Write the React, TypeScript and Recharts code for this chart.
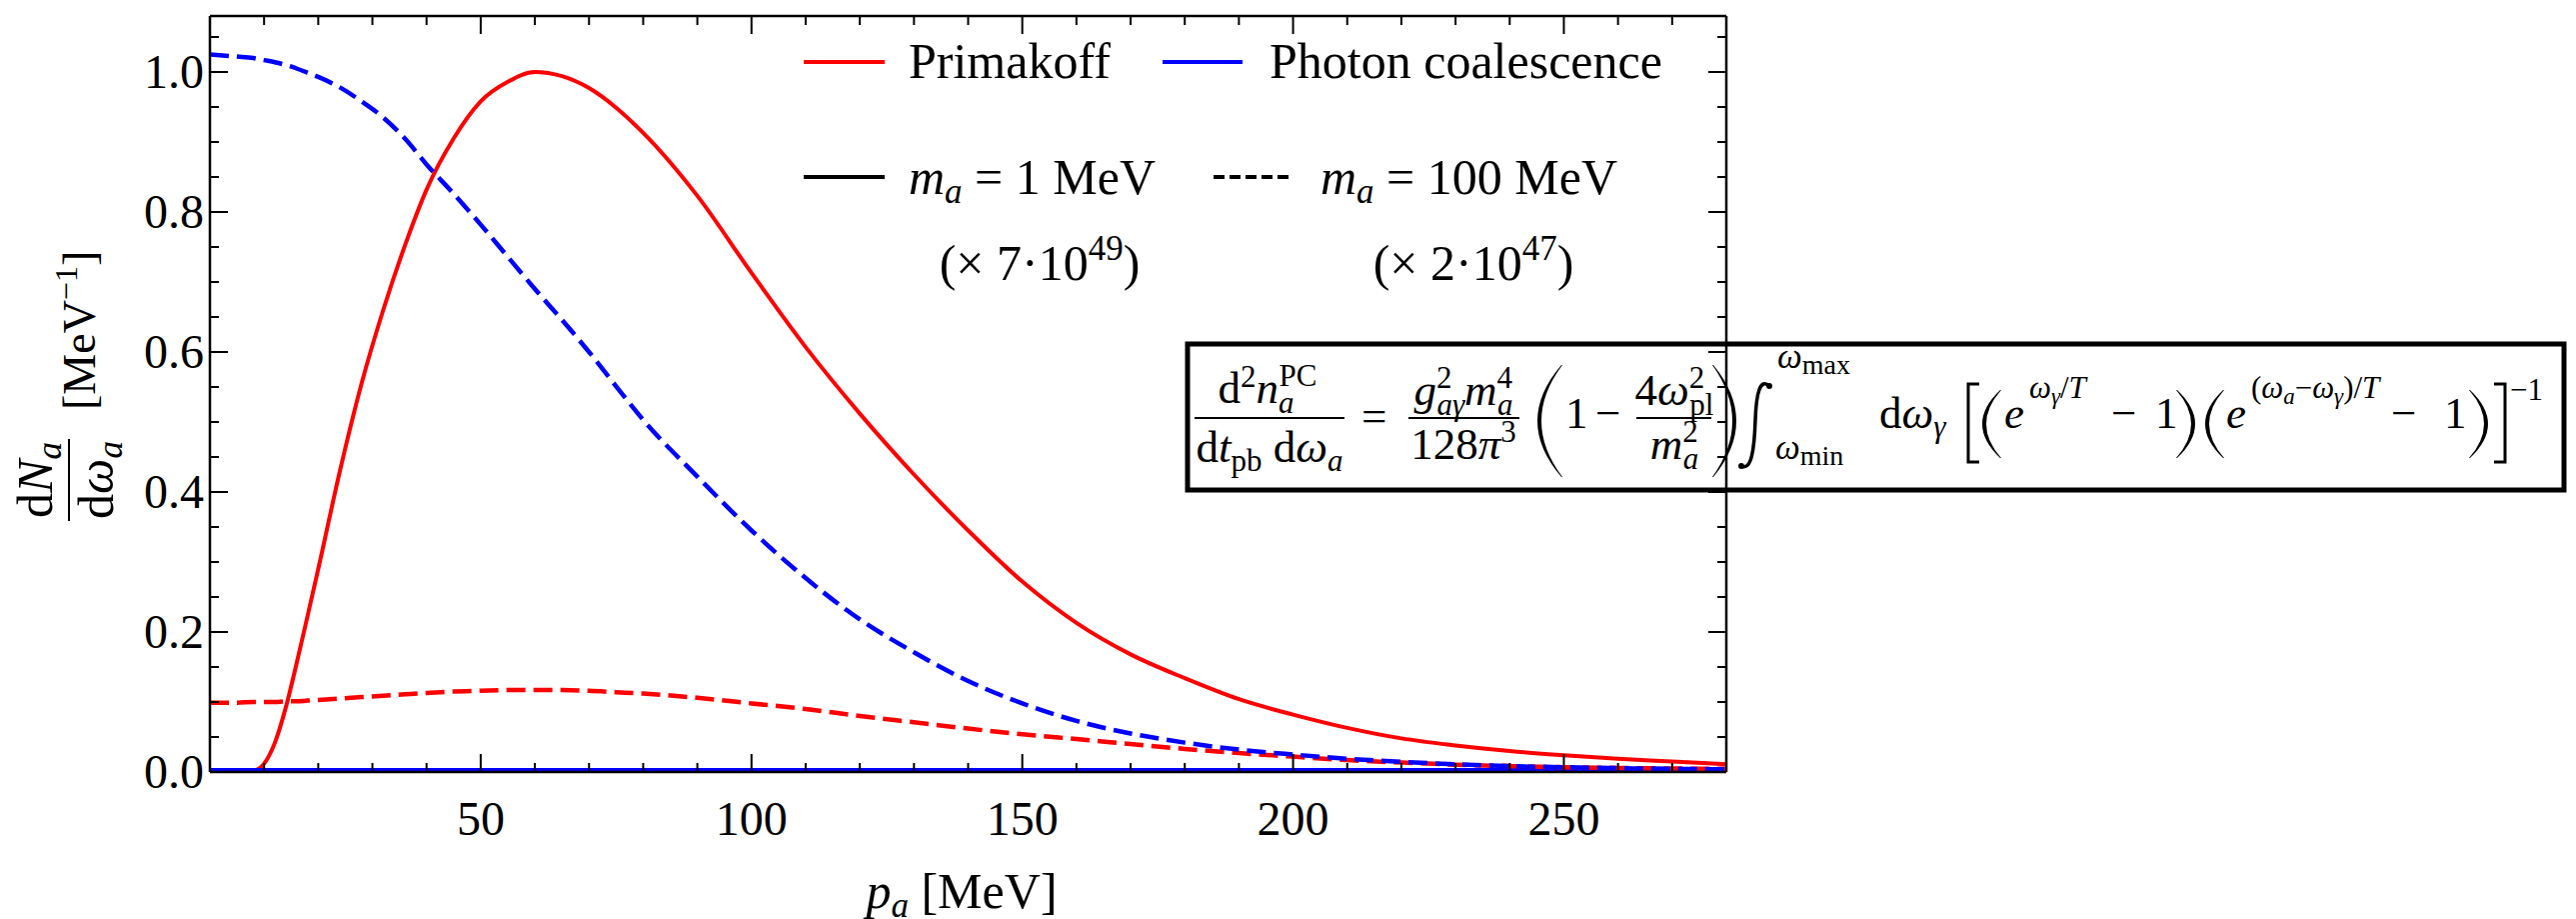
import { LineChart, Line, XAxis, YAxis } from "recharts";

document.body.style.margin = "0";
document.body.style.overflow = "hidden";

const FONT = "'Liberation Serif', 'Times New Roman', serif";

// axion momentum p_a [MeV]
const momentum = [
  0, 5, 8, 10, 12, 14, 16, 18, 20, 24, 28, 32, 36, 40, 45, 50, 55, 60, 65, 70, 75, 80,
  90, 100, 110, 120, 130, 140, 150, 160, 170, 180, 190, 200, 210, 220, 230, 240, 250, 260, 270, 280,
];

// m_a = 1 MeV (x 7e49)
const primakoff1MeV = [
  0, 0, 0.002, 0.012, 0.042, 0.092, 0.155, 0.222, 0.29, 0.43, 0.555, 0.66, 0.752, 0.832, 0.905, 0.958,
  0.986, 1.0, 0.994, 0.977, 0.949, 0.913, 0.823, 0.713, 0.607, 0.512, 0.425, 0.345, 0.272, 0.213, 0.168,
  0.134, 0.104, 0.082, 0.063, 0.048, 0.038, 0.03, 0.024, 0.019, 0.015, 0.011,
];
const coalescence1MeV = [
  0.002, 0.002, 0.002, 0.002, 0.002, 0.002, 0.002, 0.002, 0.002, 0.002, 0.002, 0.002, 0.002, 0.002,
  0.002, 0.002, 0.002, 0.002, 0.002, 0.002, 0.002, 0.002, 0.002, 0.002, 0.002, 0.002, 0.002, 0.002,
  0.002, 0.002, 0.002, 0.002, 0.002, 0.002, 0.002, 0.002, 0.002, 0.002, 0.002, 0.002, 0.002, 0.002,
];

// m_a = 100 MeV (x 2e47)
const primakoff100MeV = [
  0.099, 0.099, 0.1, 0.1, 0.1, 0.101, 0.101, 0.102, 0.103, 0.105, 0.107, 0.109, 0.111, 0.113, 0.115,
  0.116, 0.117, 0.117, 0.117, 0.116, 0.114, 0.112, 0.106, 0.098, 0.09, 0.08, 0.071, 0.062, 0.054, 0.047,
  0.04, 0.033, 0.027, 0.022, 0.017, 0.0135, 0.0105, 0.0085, 0.0068, 0.0058, 0.005, 0.0045,
];
const coalescence100MeV = [
  1.025, 1.022, 1.02, 1.017, 1.014, 1.01, 1.005, 0.999, 0.993, 0.978, 0.958, 0.935, 0.905, 0.868, 0.826,
  0.782, 0.736, 0.69, 0.646, 0.6, 0.551, 0.503, 0.422, 0.345, 0.277, 0.218, 0.171, 0.13, 0.098, 0.073,
  0.055, 0.042, 0.032, 0.025, 0.019, 0.0145, 0.011, 0.0085, 0.0068, 0.0055, 0.0045, 0.0038,
];

const xMajorTicks = [50, 100, 150, 200, 250];
const xMinorTicks = [10, 20, 30, 40, 60, 70, 80, 90, 110, 120, 130, 140, 160, 170, 180, 190, 210, 220, 230, 240, 260, 270];
const yMajorTicks = [0, 0.2, 0.4, 0.6, 0.8, 1.0];
const yMinorTicks = [0.05, 0.1, 0.15, 0.25, 0.3, 0.35, 0.45, 0.5, 0.55, 0.65, 0.7, 0.75, 0.85, 0.9, 0.95, 1.05];

const data = momentum.map((p, i) => ({
  p,
  prim1: primakoff1MeV[i],
  pc1: coalescence1MeV[i],
  prim100: primakoff100MeV[i],
  pc100: coalescence100MeV[i],
}));

const xTicks = [...xMajorTicks, ...xMinorTicks].sort((a, b) => a - b);
const yTicks = [...yMajorTicks, ...yMinorTicks].sort((a, b) => a - b);

const MAJOR = 18;
const MINOR = 9;

function BottomTick({ x, y, payload }: any) {
  const major = xMajorTicks.includes(payload.value);
  return (
    <g>
      <line x1={x} x2={x} y1={y} y2={y - (major ? MAJOR : MINOR)} stroke="#000" strokeWidth={2} />
      {major && (
        <text x={x} y={y + 63} textAnchor="middle" fontSize={48} fontFamily={FONT} fill="#000">
          {payload.value}
        </text>
      )}
    </g>
  );
}

function TopTick({ x, y, payload }: any) {
  const major = xMajorTicks.includes(payload.value);
  return <line x1={x} x2={x} y1={y} y2={y + (major ? MAJOR : MINOR)} stroke="#000" strokeWidth={2} />;
}

function LeftTick({ x, y, payload }: any) {
  const major = yMajorTicks.includes(payload.value);
  return (
    <g>
      <line x1={x} x2={x + (major ? MAJOR : MINOR)} y1={y} y2={y} stroke="#000" strokeWidth={2} />
      {major && (
        <text x={x - 6} y={y + 16} textAnchor="end" fontSize={48} fontFamily={FONT} fill="#000">
          {payload.value.toFixed(1)}
        </text>
      )}
    </g>
  );
}

function RightTick({ x, y, payload }: any) {
  const major = yMajorTicks.includes(payload.value);
  return <line x1={x} x2={x - (major ? MAJOR : MINOR)} y1={y} y2={y} stroke="#000" strokeWidth={2} />;
}

// big delimiters for the formula box
function paren(x0: number, x1: number, top: number, bot: number, left: boolean) {
  const mid = (top + bot) / 2;
  const w = 4;
  if (left) {
    const co = 2 * x0 - (x1 - 1);
    const ci = 2 * (x0 + w) - x1;
    return `M${x1 - 1},${top} Q${co},${mid} ${x1 - 1},${bot} L${x1},${bot} Q${ci},${mid} ${x1},${top} Z`;
  }
  const co = 2 * x1 - (x0 + 1);
  const ci = 2 * (x1 - w) - x0;
  return `M${x0 + 1},${top} Q${co},${mid} ${x0 + 1},${bot} L${x0},${bot} Q${ci},${mid} ${x0},${top} Z`;
}

const it = { fontStyle: "italic" as const };

function Overlay() {
  const M = 45;
  const S = 31;
  const SS = 23;
  const B = 428;
  const A = 418;
  return (
    <svg
      width={2577}
      height={919}
      style={{ position: "absolute", left: 0, top: 0, pointerEvents: "none" }}
      fontFamily={FONT}
      fill="#000"
    >
      {/* legend */}
      <line x1={804} x2={885} y1={62} y2={62} stroke="#ff0000" strokeWidth={4} />
      <text x={909} y={78} fontSize={50}>Primakoff</text>
      <line x1={1163} x2={1243} y1={62} y2={62} stroke="#0000ff" strokeWidth={4} />
      <text x={1270} y={78} fontSize={50}>Photon coalescence</text>

      <line x1={804} x2={885} y1={177} y2={177} stroke="#000" strokeWidth={4} />
      <text x={909} y={194} fontSize={50}>
        <tspan {...it}>m</tspan>
        <tspan {...it} fontSize={35} dy={9}>a</tspan>
        <tspan dy={-9}>{"  =  1 MeV"}</tspan>
      </text>
      <line x1={1214} x2={1292} y1={177} y2={177} stroke="#000" strokeWidth={4} strokeDasharray="11 5" />
      <text x={1321} y={194} fontSize={50}>
        <tspan {...it}>m</tspan>
        <tspan {...it} fontSize={35} dy={9}>a</tspan>
        <tspan dy={-9}>{"  =  100 MeV"}</tspan>
      </text>
      <text x={1040} y={280} fontSize={50} textAnchor="middle">
        {"(× 7·10"}
        <tspan fontSize={35} dy={-20}>49</tspan>
        <tspan dy={20}>)</tspan>
      </text>
      <text x={1474} y={280} fontSize={50} textAnchor="middle">
        {"(× 2·10"}
        <tspan fontSize={35} dy={-20}>47</tspan>
        <tspan dy={20}>)</tspan>
      </text>

      {/* x label */}
      <text x={962} y={908} fontSize={50} textAnchor="middle">
        <tspan {...it}>p</tspan>
        <tspan {...it} fontSize={35} dy={9}>a</tspan>
        <tspan dy={-9}>{" [MeV]"}</tspan>
      </text>

      {/* y label */}
      <g transform="translate(69,393) rotate(-90)">
        <line x1={-128} x2={-46} y1={0} y2={0} stroke="#000" strokeWidth={2} />
        <text x={-87} y={-17} fontSize={50} textAnchor="middle">
          d<tspan {...it}>N</tspan>
          <tspan {...it} fontSize={35} dy={9}>a</tspan>
        </text>
        <text x={-87} y={44} fontSize={50} textAnchor="middle">
          d<tspan {...it}>ω</tspan>
          <tspan {...it} fontSize={35} dy={9}>a</tspan>
        </text>
        <text x={-17} y={26} fontSize={46}>
          [MeV
          <tspan fontSize={32} dy={-18}>−1</tspan>
          <tspan dy={18}>]</tspan>
        </text>
      </g>

      {/* formula box */}
      <rect x={1188} y={344} width={1377} height={146} fill="none" stroke="#000" strokeWidth={5} />

      <line x1={1195} x2={1345} y1={A} y2={A} stroke="#000" strokeWidth={2} />
      <text x={1268} y={403} fontSize={M} textAnchor="middle">
        d<tspan fontSize={S} dy={-16}>2</tspan>
        <tspan {...it} dy={16}>n</tspan>
        <tspan {...it} fontSize={S} dy={10}>a</tspan>
        <tspan fontSize={S} dx={-15} dy={-27}>PC</tspan>
      </text>
      <text x={1270} y={462} fontSize={M} textAnchor="middle">
        d<tspan {...it}>t</tspan>
        <tspan fontSize={S} dy={9}>pb</tspan>
        <tspan dy={-9}>{" d"}</tspan>
        <tspan {...it}>ω</tspan>
        <tspan {...it} fontSize={S} dy={9}>a</tspan>
      </text>
      <text x={1362} y={B + 3} fontSize={M}>=</text>

      <line x1={1409} x2={1520} y1={A} y2={A} stroke="#000" strokeWidth={2} />
      <text x={1464} y={405} fontSize={M} textAnchor="middle">
        <tspan {...it}>g</tspan>
        <tspan fontSize={S} dy={-17}>2</tspan>
        <tspan {...it} fontSize={S} dx={-15} dy={27}>aγ</tspan>
        <tspan {...it} dy={-10}>m</tspan>
        <tspan fontSize={S} dy={-17}>4</tspan>
        <tspan {...it} fontSize={S} dx={-15} dy={27}>a</tspan>
      </text>
      <text x={1464} y={459} fontSize={M} textAnchor="middle">
        128<tspan {...it}>π</tspan>
        <tspan fontSize={S} dy={-17}>3</tspan>
      </text>

      <path d={paren(1538, 1563, 365, 477, true)} />
      <text x={1566} y={B} fontSize={M}>1</text>
      <text x={1596} y={B} fontSize={M}>−</text>

      <line x1={1637} x2={1712} y1={A} y2={A} stroke="#000" strokeWidth={2} />
      <text x={1675} y={405} fontSize={M} textAnchor="middle">
        4<tspan {...it}>ω</tspan>
        <tspan fontSize={S} dy={-17}>2</tspan>
        <tspan fontSize={S} dx={-15} dy={27}>pl</tspan>
      </text>
      <text x={1675} y={459} fontSize={M} textAnchor="middle">
        <tspan {...it}>m</tspan>
        <tspan fontSize={S} dy={-17}>2</tspan>
        <tspan {...it} fontSize={S} dx={-15} dy={27}>a</tspan>
      </text>
      <path d={paren(1713, 1737, 365, 477, false)} />

      {/* integral */}
      <path
        d="M1770,386 C1761,378 1757,392 1756,420 C1755,450 1752,471 1742,466"
        fill="none"
        stroke="#000"
        strokeWidth={3.5}
      />
      <circle cx={1770} cy={386} r={3} />
      <circle cx={1742} cy={466} r={3} />
      <text x={1778} y={368} fontSize={35}>
        <tspan {...it}>ω</tspan>
        <tspan fontSize={28} dy={6}>max</tspan>
      </text>
      <text x={1776} y={459} fontSize={35}>
        <tspan {...it}>ω</tspan>
        <tspan fontSize={28} dy={6}>min</tspan>
      </text>

      <text x={1880} y={B} fontSize={M}>
        d<tspan {...it}>ω</tspan>
        <tspan {...it} fontSize={S} dy={9}>γ</tspan>
      </text>

      <polyline points="1980,384 1969,384 1969,462 1980,462" fill="none" stroke="#000" strokeWidth={3} />
      <path d={paren(1983, 2002, 390, 458, true)} />
      <text x={2005} y={B} fontSize={M} {...it}>e</text>
      <text x={2030} y={398} fontSize={S}>
        <tspan {...it}>ω</tspan>
        <tspan {...it} fontSize={SS} dy={6}>γ</tspan>
        <tspan dy={-6}>/</tspan>
        <tspan {...it}>T</tspan>
      </text>
      <text x={2112} y={B} fontSize={M}>−</text>
      <text x={2156} y={B} fontSize={M}>1</text>
      <path d={paren(2177, 2196, 390, 458, false)} />

      <path d={paren(2206, 2225, 390, 458, true)} />
      <text x={2227} y={B} fontSize={M} {...it}>e</text>
      <text x={2252} y={398} fontSize={S}>
        (<tspan {...it}>ω</tspan>
        <tspan {...it} fontSize={SS} dy={6}>a</tspan>
        <tspan dy={-6}>−</tspan>
        <tspan {...it}>ω</tspan>
        <tspan {...it} fontSize={SS} dy={6}>γ</tspan>
        <tspan dy={-6}>)/</tspan>
        <tspan {...it}>T</tspan>
      </text>
      <text x={2392} y={B} fontSize={M}>−</text>
      <text x={2445} y={B} fontSize={M}>1</text>
      <path d={paren(2470, 2489, 390, 458, false)} />
      <polyline points="2495,384 2506,384 2506,462 2495,462" fill="none" stroke="#000" strokeWidth={3} />
      <text x={2511} y={400} fontSize={S}>−1</text>
    </svg>
  );
}

export default function App() {
  return (
    <div style={{ position: "relative", width: 2577, height: 919, background: "#fff" }}>
      <LineChart
        width={2577}
        height={919}
        data={data}
        margin={{ top: 15, right: 849, bottom: 146, left: 209 }}
      >
        <XAxis
          dataKey="p"
          type="number"
          domain={[0, 280]}
          allowDataOverflow
          ticks={xTicks}
          interval={0}
          height={1}
          tickSize={0}
          tickMargin={0}
          tickLine={false}
          tick={BottomTick}
          axisLine={{ stroke: "#000", strokeWidth: 2.5 }}
        />
        <XAxis
          xAxisId="top"
          orientation="top"
          dataKey="p"
          type="number"
          domain={[0, 280]}
          allowDataOverflow
          ticks={xTicks}
          interval={0}
          height={1}
          tickSize={0}
          tickMargin={0}
          tickLine={false}
          tick={TopTick}
          axisLine={{ stroke: "#000", strokeWidth: 2.5 }}
        />
        <YAxis
          type="number"
          domain={[0, 1.08]}
          allowDataOverflow
          ticks={yTicks}
          interval={0}
          width={1}
          tickSize={0}
          tickMargin={0}
          tickLine={false}
          tick={LeftTick}
          axisLine={{ stroke: "#000", strokeWidth: 2.5 }}
        />
        <YAxis
          yAxisId="right"
          orientation="right"
          type="number"
          domain={[0, 1.08]}
          allowDataOverflow
          ticks={yTicks}
          interval={0}
          width={1}
          tickSize={0}
          tickMargin={0}
          tickLine={false}
          tick={RightTick}
          axisLine={{ stroke: "#000", strokeWidth: 2.5 }}
        />
        <Line dataKey="prim1" type="monotone" stroke="#ff0000" strokeWidth={4} dot={false} isAnimationActive={false} />
        <Line dataKey="pc1" type="monotone" stroke="#0000ff" strokeWidth={5} dot={false} isAnimationActive={false} />
        <Line
          dataKey="prim100"
          type="monotone"
          stroke="#ff0000"
          strokeWidth={4.5}
          strokeDasharray="19 8"
          dot={false}
          isAnimationActive={false}
        />
        <Line
          dataKey="pc100"
          type="monotone"
          stroke="#0000ff"
          strokeWidth={4.5}
          strokeDasharray="19 8"
          dot={false}
          isAnimationActive={false}
        />
      </LineChart>
      <Overlay />
    </div>
  );
}
